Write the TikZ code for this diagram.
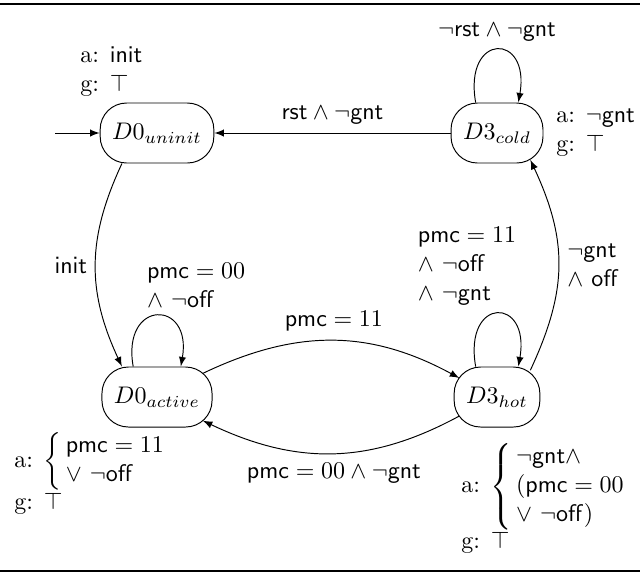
\documentclass[tikz,border=0pt]{standalone}
\usetikzlibrary{positioning}
\begin{document}
\begin{tikzpicture}[
    x=0.41667pt, y=0.41667pt,
    >=latex,
    state/.style={
        draw,
        rectangle,
        rounded corners=11pt,
        minimum height=25pt,
        inner xsep=5pt
    },
    annot/.style={
        align=left,
        inner sep=0pt
    },
    trans/.style={
        ->
    },
    selfloop/.style={
        out=100,
        in=80
    }
]

\useasboundingbox (0,0) rectangle (640,-572);
\draw[line width=0.8pt] (0,-4) -- (640,-4);
\draw[line width=0.5pt] (0,-571) -- (640,-571);

% states
\node[state] (uninit) at (157,-133) {$D0_{uninit}$};
\node[state] (cold) at (497,-133) {$D3_{cold}$};
\node[state] (active) at (157,-397) {$D0_{active}$};
\node[state] (hot) at (497,-397) {$D3_{hot}$};

% assumptions and guarantees
\node[annot, anchor=north west] (auninit) at (80,-46) {a: \textsf{init}\\g: $\top$};
\node[annot, right=5.2pt of cold] (acold) {a: $\neg\mathsf{gnt}$\\g: $\top$};
\node[annot, anchor=north west] (aactive) at (14,-432) {a: $\left\{\begin{array}{@{\,}l@{}}\mathsf{pmc}=11\\ \vee\ \neg\mathsf{off}\end{array}\right.$\\g: $\top$};
\node[annot, anchor=north west] (ahot) at (461,-443) {a: $\left\{\begin{array}{@{\,}l@{}}\neg\mathsf{gnt}\wedge\\ (\mathsf{pmc}=00\\ \vee\ \neg\mathsf{off})\end{array}\right.$\\g: $\top$};

% transitions
\coordinate (start) at (55,-133);
\draw[trans] (start) -- (uninit);
\draw[trans] (cold) -- node[above] {$\mathsf{rst}\wedge\neg\mathsf{gnt}$} (uninit);
\draw[trans] (cold.125) to[selfloop, looseness=4.3] node[above] {$\neg\mathsf{rst}\wedge\neg\mathsf{gnt}$} (cold.55);
\draw[trans] (uninit.221) to[out=-115, in=115, looseness=1.05] node[left] {$\mathsf{init}$} (active.139);
\draw[trans] (active.128) to[selfloop, looseness=3.7] node[above, align=left, xshift=16.3pt] {$\mathsf{pmc}=00$\\$\wedge\ \neg\mathsf{off}$} (active.52);
\draw[trans, shorten <=-4.5pt, shorten >=-2.7pt] (active) to[bend left=27] node[above] {$\mathsf{pmc}=11$} (hot);
\draw[trans, shorten <=-2.7pt, shorten >=-4.5pt] (hot) to[bend left=27] node[below] {$\mathsf{pmc}=00\wedge\neg\mathsf{gnt}$} (active);
\draw[trans] (hot.125) to[selfloop, looseness=4.3] node[above, align=left, xshift=-12.5pt] {$\mathsf{pmc}=11$\\$\wedge\ \neg\mathsf{off}$\\$\wedge\ \neg\mathsf{gnt}$} (hot.55);
\draw[trans, shorten <=-1.7pt, shorten >=-1.7pt] (hot.41) to[out=65, in=-65, looseness=1.07] node[right, align=left] {$\neg\mathsf{gnt}$\\$\wedge\ \mathsf{off}$} (cold.-41);

\end{tikzpicture}
\end{document}
